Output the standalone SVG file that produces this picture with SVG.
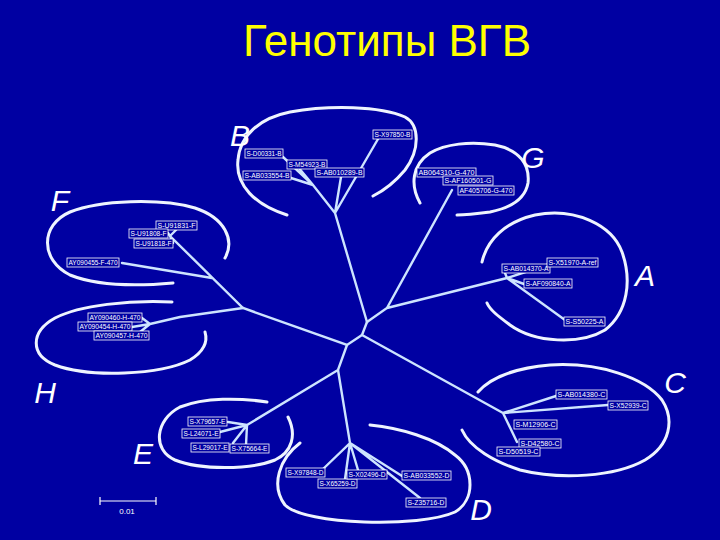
<svg xmlns="http://www.w3.org/2000/svg" width="720" height="540" viewBox="0 0 720 540">
<style>
.bg{fill:#0000A2}
.title{font-family:"Liberation Sans",Arial,sans-serif;font-size:44px;fill:#FFFF00}
.big{font-family:"Liberation Sans",Arial,sans-serif;font-size:30px;font-style:italic;fill:#FFFFFF}
.edge{stroke:#CDE4FF;stroke-width:2.4;fill:none;stroke-linecap:round}
.arc{stroke:#EEF4FF;stroke-width:3;fill:none;stroke-linecap:round}
.lb rect{fill:#0000A2;stroke:#FFFFFF;stroke-width:0.8}
.lb text{font-family:"Liberation Sans",Arial,sans-serif;font-size:7px;fill:#FFFFFF}
.scale{stroke:#FFFFFF;stroke-width:1.2}
.st{font-family:"Liberation Sans",Arial,sans-serif;font-size:8px;fill:#FFFFFF}
</style>
<rect class="bg" x="0" y="0" width="720" height="540"/>
<text class="title" x="387" y="56" text-anchor="middle">Генотипы ВГВ</text>

<g id="arcs">
<path class="arc" d="M287,215 C255,205 235,185 238,160 C240,135 260,118 290,112 C330,105 380,106 405,117 C420,125 420,150 405,170 C395,182 385,190 373,196"/>
<path class="arc" d="M420,203 C410,185 412,165 430,153 C445,144 470,141 495,145 C520,150 530,165 528,183 C525,200 510,208 490,212 C475,214 465,215 457,215"/>
<path class="arc" d="M225,258 C235,240 225,218 195,208 C160,198 100,200 70,212 C40,225 40,260 70,275 C100,287 140,286 173,283"/>
<path class="arc" d="M482,262 C487,240 505,222 535,215 C575,207 612,225 622,252 C632,280 628,312 605,330 C580,345 535,343 510,325 C498,316 490,310 487,303"/>
<path class="arc" d="M172,302 C130,300 80,305 55,318 C30,332 30,355 55,365 C90,378 160,375 190,360 C203,352 208,342 205,332"/>
<path class="arc" d="M478,392 C490,378 515,368 550,365 C600,362 645,378 662,400 C675,420 670,445 645,460 C615,477 560,480 520,470 C495,462 470,448 462,430"/>
<path class="arc" d="M267,402 C240,398 205,397 180,407 C155,420 152,450 175,460 C200,470 250,470 275,460 C292,452 297,435 288,417"/>
<path class="arc" d="M300,443 C280,458 270,485 285,505 C305,525 420,528 455,512 C475,500 475,470 455,455 C435,438 400,428 370,425"/>
</g>

<g id="connectors">
<path class="edge" d="M367,322 L335,213 L313,185 L283,157 M313,185 L298,167 M313,185 L291,178 M335,213 L341,177 M335,213 L378,139"/>
<path class="edge" d="M367,322 L387,308 L452,190 M387,308 L507,278 L547,265 M507,278 L505,273 M507,278 L524,284 M507,278 L565,320"/>
<path class="edge" d="M367,322 L362,335 L503,413 L556,396 M503,413 L608,405 M503,413 L517,442"/>
<path class="edge" d="M362,335 L347,345 L243,308 L170,236 L168,233 M170,236 L173,243 M170,236 L176,230 M212,278 L122,263"/>
<path class="edge" d="M243,308 L180,317 L150,324 L132,327 M150,324 L142,318 M150,324 L140,332"/>
<path class="edge" d="M347,345 L338,370 L247,425 L228,422 M247,425 L220,432 M247,425 L233,443 M247,425 L246,445"/>
<path class="edge" d="M338,370 L350,443 L322,470 M350,443 L345,479 M350,443 L358,470 M350,443 L402,476 M350,443 L420,498"/>
</g>

<g id="groups">
<text class="big" x="240" y="146" text-anchor="middle">B</text>
<text class="big" x="533" y="168" text-anchor="middle">G</text>
<text class="big" x="60" y="211" text-anchor="middle">F</text>
<text class="big" x="645" y="286" text-anchor="middle">A</text>
<text class="big" x="45" y="403" text-anchor="middle">H</text>
<text class="big" x="675" y="393" text-anchor="middle">C</text>
<text class="big" x="143" y="464" text-anchor="middle">E</text>
<text class="big" x="481" y="520" text-anchor="middle">D</text>
</g>

<g id="n-D00331" class="lb"><rect x="245" y="149" width="38" height="9"/><text x="246.5" y="156" textLength="35" lengthAdjust="spacingAndGlyphs">S-D00331-B</text></g>
<g id="n-M54923" class="lb"><rect x="287" y="160" width="40" height="9"/><text x="288.5" y="167" textLength="37" lengthAdjust="spacingAndGlyphs">S-M54923-B</text></g>
<g id="n-AB033554" class="lb"><rect x="243" y="171" width="48" height="9"/><text x="244.5" y="178" textLength="45" lengthAdjust="spacingAndGlyphs">S-AB033554-B</text></g>
<g id="n-AB010289" class="lb"><rect x="315" y="168" width="49" height="9"/><text x="316.5" y="175" textLength="46" lengthAdjust="spacingAndGlyphs">S-AB010289-B</text></g>
<g id="n-X97850" class="lb"><rect x="373" y="130" width="39" height="9"/><text x="374.5" y="137" textLength="36" lengthAdjust="spacingAndGlyphs">S-X97850-B</text></g>
<g id="n-AB064310" class="lb"><rect x="417" y="168" width="59" height="9"/><text x="418.5" y="175" textLength="56" lengthAdjust="spacingAndGlyphs">AB064310-G-470</text></g>
<g id="n-AF160501" class="lb"><rect x="443" y="176" width="50" height="9"/><text x="444.5" y="183" textLength="47" lengthAdjust="spacingAndGlyphs">S-AF160501-G</text></g>
<g id="n-AF405706" class="lb"><rect x="458" y="186" width="56" height="9"/><text x="459.5" y="193" textLength="53" lengthAdjust="spacingAndGlyphs">AF405706-G-470</text></g>
<g id="n-U91831" class="lb"><rect x="156" y="221" width="41" height="9"/><text x="157.5" y="228" textLength="38" lengthAdjust="spacingAndGlyphs">S-U91831-F</text></g>
<g id="n-U91808" class="lb"><rect x="129" y="229" width="39" height="9"/><text x="130.5" y="236" textLength="36" lengthAdjust="spacingAndGlyphs">S-U91808-F</text></g>
<g id="n-U91818" class="lb"><rect x="134" y="239" width="39" height="9"/><text x="135.5" y="246" textLength="36" lengthAdjust="spacingAndGlyphs">S-U91818-F</text></g>
<g id="n-AY090455" class="lb"><rect x="67" y="258" width="52" height="9"/><text x="68.5" y="265" textLength="49" lengthAdjust="spacingAndGlyphs">AY090455-F-470</text></g>
<g id="n-AB014370" class="lb"><rect x="502" y="264" width="48" height="9"/><text x="503.5" y="271" textLength="45" lengthAdjust="spacingAndGlyphs">S-AB014370-A</text></g>
<g id="n-X51970" class="lb"><rect x="547" y="258" width="51" height="9"/><text x="548.5" y="265" textLength="48" lengthAdjust="spacingAndGlyphs">S-X51970-A-ref</text></g>
<g id="n-AF090840" class="lb"><rect x="524" y="279" width="48" height="9"/><text x="525.5" y="286" textLength="45" lengthAdjust="spacingAndGlyphs">S-AF090840-A</text></g>
<g id="n-S50225" class="lb"><rect x="564" y="317" width="41" height="9"/><text x="565.5" y="324" textLength="38" lengthAdjust="spacingAndGlyphs">S-S50225-A</text></g>
<g id="n-AY090460" class="lb"><rect x="88" y="313" width="54" height="9"/><text x="89.5" y="320" textLength="51" lengthAdjust="spacingAndGlyphs">AY090460-H-470</text></g>
<g id="n-AY090454" class="lb"><rect x="78" y="322" width="54" height="9"/><text x="79.5" y="329" textLength="51" lengthAdjust="spacingAndGlyphs">AY090454-H-470</text></g>
<g id="n-AY090457" class="lb"><rect x="94" y="331" width="55" height="9"/><text x="95.5" y="338" textLength="52" lengthAdjust="spacingAndGlyphs">AY090457-H-470</text></g>
<g id="n-AB014380" class="lb"><rect x="556" y="390" width="51" height="9"/><text x="557.5" y="397" textLength="48" lengthAdjust="spacingAndGlyphs">S-AB014380-C</text></g>
<g id="n-X52939" class="lb"><rect x="608" y="401" width="40" height="9"/><text x="609.5" y="408" textLength="37" lengthAdjust="spacingAndGlyphs">S-X52939-C</text></g>
<g id="n-M12906" class="lb"><rect x="514" y="420" width="43" height="9"/><text x="515.5" y="427" textLength="40" lengthAdjust="spacingAndGlyphs">S-M12906-C</text></g>
<g id="n-D42580" class="lb"><rect x="519" y="439" width="42" height="9"/><text x="520.5" y="446" textLength="39" lengthAdjust="spacingAndGlyphs">S-D42580-C</text></g>
<g id="n-D50519" class="lb"><rect x="497" y="447" width="43" height="9"/><text x="498.5" y="454" textLength="40" lengthAdjust="spacingAndGlyphs">S-D50519-C</text></g>
<g id="n-X79657" class="lb"><rect x="188" y="417" width="39" height="9"/><text x="189.5" y="424" textLength="36" lengthAdjust="spacingAndGlyphs">S-X79657-E</text></g>
<g id="n-L24071" class="lb"><rect x="182" y="429" width="38" height="9"/><text x="183.5" y="436" textLength="35" lengthAdjust="spacingAndGlyphs">S-L24071-E</text></g>
<g id="n-L29017" class="lb"><rect x="191" y="443" width="38" height="9"/><text x="192.5" y="450" textLength="35" lengthAdjust="spacingAndGlyphs">S-L29017-E</text></g>
<g id="n-X75664" class="lb"><rect x="230" y="444" width="39" height="9"/><text x="231.5" y="451" textLength="36" lengthAdjust="spacingAndGlyphs">S-X75664-E</text></g>
<g id="n-X97848" class="lb"><rect x="286" y="468" width="39" height="9"/><text x="287.5" y="475" textLength="36" lengthAdjust="spacingAndGlyphs">S-X97848-D</text></g>
<g id="n-X65259" class="lb"><rect x="318" y="479" width="39" height="9"/><text x="319.5" y="486" textLength="36" lengthAdjust="spacingAndGlyphs">S-X65259-D</text></g>
<g id="n-X02496" class="lb"><rect x="347" y="470" width="40" height="9"/><text x="348.5" y="477" textLength="37" lengthAdjust="spacingAndGlyphs">S-X02496-D</text></g>
<g id="n-AB033552" class="lb"><rect x="402" y="471" width="49" height="9"/><text x="403.5" y="478" textLength="46" lengthAdjust="spacingAndGlyphs">S-AB033552-D</text></g>
<g id="n-Z35716" class="lb"><rect x="406" y="498" width="40" height="9"/><text x="407.5" y="505" textLength="37" lengthAdjust="spacingAndGlyphs">S-Z35716-D</text></g>

<g id="scalebar">
<path class="scale" d="M100,501 L156,501 M100,497 L100,505 M156,497 L156,505"/>
<text class="st" x="127" y="514" text-anchor="middle">0.01</text>
</g>
</svg>
